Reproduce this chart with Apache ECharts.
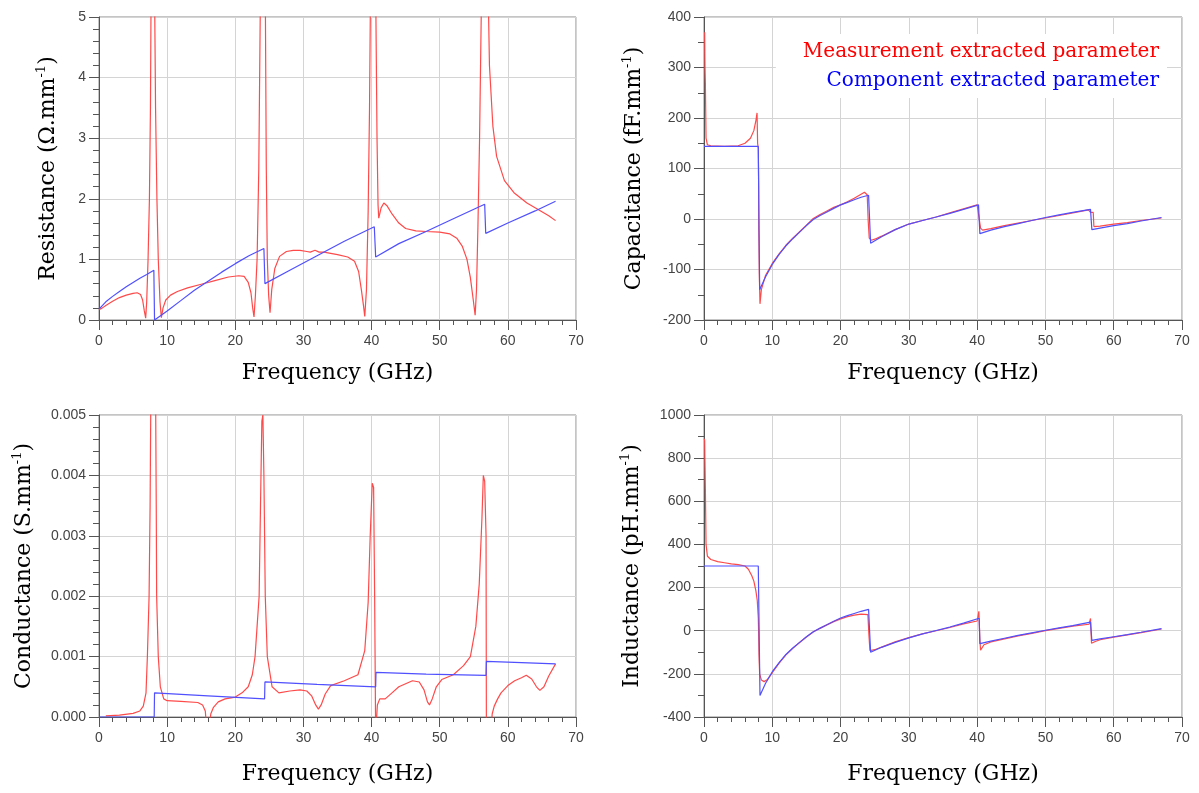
<!DOCTYPE html>
<html>
<head>
<meta charset="utf-8">
<script src="https://cdn.jsdelivr.net/npm/echarts@6/dist/echarts.min.js"></script>
<style>html,body{margin:0;padding:0;background:#fff}#c{width:1199px;height:793px}</style>
</head>
<body>
<div id="c"></div>
<script>
// ---- Data (frequency in GHz, value) ----
const xTicks = [0, 10, 20, 30, 40, 50, 60, 70];
const seriesNames = ['Measurement extracted parameter', 'Component extracted parameter'];

// Resistance (Ω/mm)
const resMeas = [[0,0.17],[0.5,0.2],[1,0.24],[2,0.31],[3,0.37],[4,0.41],[5,0.44],[5.6,0.45],[6.1,0.42],[6.4,0.33],[6.65,0.15],[6.85,0.03],[7.0,0.3],[7.2,1.0],[7.4,2.0],[7.55,3.5],[7.65,5.5],[8.15,5.5],[8.3,3.5],[8.5,2.0],[8.7,1.0],[8.95,0.3],[9.15,0.04],[9.4,0.2],[9.8,0.33],[10.5,0.41],[11.5,0.47],[13,0.53],[15,0.59],[17,0.65],[19,0.71],[20.5,0.73],[21.3,0.72],[21.9,0.62],[22.3,0.45],[22.55,0.2],[22.75,0.05],[22.95,0.4],[23.2,1.0],[23.45,2.5],[23.7,5.5],[24.4,5.5],[24.55,2.5],[24.7,1.0],[24.9,0.4],[25.1,0.12],[25.35,0.5],[25.8,0.85],[26.5,1.05],[27.5,1.13],[28.5,1.15],[29.5,1.15],[30.5,1.13],[31,1.12],[31.7,1.15],[32.3,1.12],[33,1.12],[35,1.08],[36.5,1.04],[37.5,0.97],[38.1,0.8],[38.5,0.5],[38.8,0.25],[39.0,0.06],[39.25,0.5],[39.5,1.8],[39.7,3.5],[39.85,5.5],[40.6,5.5],[40.8,3.0],[40.95,1.9],[41.05,1.68],[41.4,1.85],[41.8,1.93],[42.3,1.88],[43,1.75],[44,1.6],[45,1.51],[46.5,1.47],[48,1.46],[50,1.45],[51.5,1.42],[52.5,1.35],[53.3,1.22],[54,1.0],[54.5,0.7],[54.9,0.35],[55.2,0.08],[55.4,0.5],[55.6,1.5],[55.85,3.0],[56.15,5.5],[57.1,5.5],[57.3,4.2],[57.8,3.2],[58.35,2.7],[59.5,2.3],[60.9,2.1],[62.8,1.93],[64.5,1.82],[66,1.72],[67,1.64]];
const resComp = [[0,0.18],[1,0.3],[2,0.39],[3,0.47],[4,0.55],[5,0.62],[6,0.69],[7,0.75],[8.05,0.82],[8.15,0],[10,0.15],[12,0.32],[14,0.49],[16,0.64],[18,0.79],[20,0.93],[22,1.06],[24.2,1.18],[24.35,0.6],[28,0.82],[32,1.06],[36,1.3],[40.4,1.54],[40.6,1.04],[44,1.26],[48,1.46],[52,1.67],[56.6,1.91],[56.75,1.43],[60,1.6],[64,1.8],[67,1.96]];

// Capacitance (fF/mm)
const capMeas = [[0.1,370],[0.15,300],[0.2,270],[0.3,160],[0.5,147],[1,145],[3,144],[5,145],[6,150],[6.8,160],[7.3,175],[7.6,195],[7.77,210],[7.85,150],[7.95,140],[8.0,65],[8.02,-20],[8.1,-110],[8.2,-168],[8.4,-140],[9,-112],[10,-88],[11,-69],[12,-52],[13,-38],[14,-25],[15,-12],[16,1],[17,9],[18,16],[19,23],[20,28],[21,34],[22,41],[23,49],[23.5,53],[23.9,48],[24.05,-5],[24.2,-38],[24.5,-42],[25,-40],[26,-34],[28,-21],[30,-10],[32,-3],[34,4],[36,12],[38,20],[40.0,28],[40.2,27],[40.5,-18],[40.8,-22],[42,-19],[44,-13],[46,-8],[48,-3],[50,2],[52,7],[54,12],[56.3,18],[56.6,13],[57.0,13],[57.1,-15],[58,-14],[60,-10],[62,-7],[64,-3],[67,2]];
const capComp = [[0,144],[7.95,144],[8.15,-140],[9,-115],[10,-90],[11,-70],[12,-53],[13,-39],[14,-26],[15,-13],[16,-1],[17,7],[18,14],[19,21],[20,28],[21,33],[22,38],[23,43],[24.1,47],[24.4,-48],[26,-35],[28,-21],[30,-10],[32,-3],[34,4],[36,11],[38,19],[40.2,28],[40.4,-29],[42,-22],[44,-15],[46,-9],[48,-3],[50,3],[52,8],[54,13],[56.6,19],[56.8,-21],[58,-18],[60,-13],[62,-9],[64,-4],[67,3]];

// Conductance (S/mm)
const condMeas = [[1,0.00002],[3,0.00003],[5,0.00006],[6,0.0001],[6.5,0.00018],[6.9,0.0004],[7.1,0.001],[7.35,0.002],[7.5,0.0035],[7.62,0.0055],[8.3,0.0055],[8.4,0.0035],[8.46,0.002],[8.7,0.001],[9.0,0.0005],[9.5,0.0003],[10,0.00027],[12,0.00026],[14.5,0.00024],[15.2,0.0002],[15.6,0.0001],[15.8,-0.0002],[16.2,-0.0002],[16.4,0.00005],[16.8,0.00016],[17.5,0.00025],[18.5,0.0003],[20,0.00033],[21,0.0004],[21.9,0.0005],[22.5,0.0007],[22.9,0.001],[23.2,0.0015],[23.5,0.002],[23.7,0.0035],[23.9,0.0049],[24.05,0.005],[24.2,0.004],[24.4,0.002],[24.7,0.001],[25.4,0.0005],[26.4,0.0004],[28,0.00043],[29.5,0.00045],[30.5,0.00043],[31.2,0.00035],[31.8,0.0002],[32.2,0.00013],[32.6,0.0002],[33.2,0.00038],[34,0.00052],[36,0.0006],[38,0.0007],[39,0.0011],[39.5,0.0019],[39.8,0.003],[40.1,0.00387],[40.3,0.0038],[40.45,0.002],[40.6,-0.0003],[40.75,-0.0003],[40.85,0.0002],[41.2,0.0003],[42,0.0003],[43,0.0004],[44,0.0005],[46,0.0006],[47,0.00058],[47.7,0.00045],[48.2,0.00025],[48.5,0.0002],[48.9,0.0003],[49.5,0.0005],[50.3,0.00062],[52,0.0007],[53.5,0.00085],[54.5,0.001],[55.3,0.0015],[55.8,0.0022],[56.2,0.0033],[56.4,0.004],[56.6,0.0039],[56.8,0.003],[56.85,-0.0003],[57.5,-0.0003],[57.7,0.00005],[58,0.00018],[58.5,0.0003],[59,0.0004],[60,0.00052],[61,0.0006],[62,0.00065],[62.7,0.00069],[63.5,0.00063],[64.2,0.0005],[64.7,0.00044],[65.3,0.0005],[66,0.00068],[67,0.00088]];
const condComp = [[0,0],[8.1,0],[8.15,0.0004],[16,0.00035],[24.3,0.0003],[24.35,0.00058],[32,0.00054],[40.6,0.0005],[40.65,0.00074],[48,0.00071],[56.8,0.00069],[56.85,0.00092],[62,0.0009],[67,0.00088]];

// Inductance (pH/mm)
const indMeas = [[0.05,890],[0.1,880],[0.2,660],[0.3,400],[0.5,345],[1,330],[2,320],[3,315],[4,310],[5,306],[6,300],[6.5,285],[7,255],[7.3,230],[7.6,185],[7.8,140],[7.95,60],[8.0,-10],[8.05,-110],[8.15,-200],[8.4,-228],[8.8,-236],[9.3,-226],[10,-195],[11,-150],[12,-112],[13,-82],[14,-55],[15,-29],[16,-6],[17,11],[18,27],[19,42],[20,55],[21,65],[22,72],[23,77],[24,75],[24.15,-20],[24.3,-92],[25,-88],[26,-76],[28,-52],[30,-32],[32,-15],[34,0],[36,15],[38,32],[40,45],[40.25,90],[40.4,-40],[40.5,-90],[41,-65],[42,-52],[44,-38],[46,-24],[48,-12],[50,0],[52,11],[54,21],[56.4,30],[56.6,57],[56.75,-58],[57.3,-50],[58,-42],[60,-30],[62,-19],[64,-9],[67,8]];
const indComp = [[0,300],[7.95,300],[8.2,-300],[9,-245],[10,-190],[11,-148],[12,-110],[13,-80],[14,-54],[15,-28],[16,-5],[17,12],[18,28],[19,44],[20,59],[21,70],[22,80],[23,90],[24.1,99],[24.4,-100],[26,-77],[28,-54],[30,-33],[32,-15],[34,1],[36,17],[38,35],[40.3,58],[40.4,-60],[42,-48],[44,-35],[46,-22],[48,-10],[50,2],[52,13],[54,24],[56.6,40],[56.8,-45],[58,-38],[60,-28],[62,-18],[64,-7],[67,10]];

// Axis ranges / tick settings
const resTicks = {min: 0, max: 5, interval: 1};
const capTicks = {min: -200, max: 400, interval: 100};
const condTicks = {min: 0, max: 0.005, interval: 0.001};
const indTicks = {min: -400, max: 1000, interval: 200};

// ---- Chart ----
const RED = '#ff4a4a', BLUE = '#5050ff';
const serif = 'DejaVu Serif';
const titleRich = {
  t: {fontFamily: serif, fontSize: 22, color: '#000', lineHeight: 26},
  s: {fontFamily: serif, fontSize: 13, color: '#000', lineHeight: 13, verticalAlign: 'top'}
};
const grids = [
  {left: 99, top: 17, width: 477, height: 303},
  {left: 704, top: 17, width: 478, height: 303},
  {left: 99, top: 415, width: 477, height: 302},
  {left: 704, top: 415, width: 478, height: 302}
].map(g => Object.assign({show: true, borderColor: '#8a8a8a', borderWidth: 1, backgroundColor: '#fff'}, g));

function xAxis(i, gap) {
  return {
    type: 'value', gridIndex: i, min: xTicks[0], max: xTicks[xTicks.length - 1], interval: 10,
    name: '{t|Frequency (GHz)}', nameLocation: 'middle', nameGap: gap,
    nameTextStyle: {rich: titleRich},
    axisLine: {show: true, onZero: false, lineStyle: {color: '#555', width: 1}},
    axisTick: {show: true, length: 10, lineStyle: {color: '#555'}},
    minorTick: {show: true, splitNumber: 5, length: 5, lineStyle: {color: '#555'}},
    splitLine: {show: true, lineStyle: {color: '#d4d4d4', width: 1}},
    axisLabel: {color: '#444', fontFamily: 'Liberation Sans', fontSize: 14, margin: 14}
  };
}
function yAxis(i, t, title, sup, gap, minorSplit, fmt) {
  return {
    type: 'value', gridIndex: i, min: t.min, max: t.max, interval: t.interval,
    name: '{t|' + title + '}{s|' + sup + '}{t|)}', nameLocation: 'middle', nameGap: gap,
    nameTextStyle: {rich: titleRich},
    axisLine: {show: true, onZero: false, lineStyle: {color: '#555', width: 1}},
    axisTick: {show: true, length: 10, lineStyle: {color: '#555'}},
    minorTick: {show: true, splitNumber: minorSplit, length: 6, lineStyle: {color: '#555'}},
    splitLine: {show: true, lineStyle: {color: '#d4d4d4', width: 1}},
    axisLabel: {color: '#444', fontFamily: 'Liberation Sans', fontSize: 14, margin: 13, formatter: fmt}
  };
}
function line(name, data, i, color) {
  return {
    type: 'line', name: name, data: data, xAxisIndex: i, yAxisIndex: i,
    showSymbol: false, symbol: 'none', clip: true, animation: false,
    lineStyle: {color: color, width: 1.2}, itemStyle: {color: color}
  };
}

const chart = echarts.init(document.getElementById('c'), null, {renderer: 'canvas'});
chart.setOption({
  backgroundColor: '#fff',
  animation: false,
  grid: grids,
  xAxis: [xAxis(0, 40), xAxis(1, 40), xAxis(2, 44), xAxis(3, 44)],
  yAxis: [
    yAxis(0, resTicks, 'Resistance (Ω.mm', '-1', 38, 5, v => String(v)),
    yAxis(1, capTicks, 'Capacitance (fF.mm', '-1', 57, 2, v => String(v)),
    yAxis(2, condTicks, 'Conductance (S.mm', '-1', 62, 5, v => v.toFixed(3)),
    yAxis(3, indTicks, 'Inductance (pH.mm', '-1', 59, 2, v => String(v))
  ],
  legend: [
    {
      data: [{name: seriesNames[0], textStyle: {color: '#ff0000'}}],
      right: 32, top: 34, padding: [6, 8, 34, 22], backgroundColor: '#fff',
      icon: 'none', itemWidth: 0, itemHeight: 0, selectedMode: false,
      textStyle: {fontFamily: serif, fontSize: 20, lineHeight: 24}
    },
    {
      data: [{name: seriesNames[1], textStyle: {color: '#0000ff'}}],
      right: 32, top: 63, padding: [6, 8, 6, 8],
      icon: 'none', itemWidth: 0, itemHeight: 0, selectedMode: false,
      textStyle: {fontFamily: serif, fontSize: 20, lineHeight: 24}
    }
  ],
  series: [
    line(seriesNames[0], resMeas, 0, RED), line(seriesNames[1], resComp, 0, BLUE),
    line(seriesNames[0], capMeas, 1, RED), line(seriesNames[1], capComp, 1, BLUE),
    line(seriesNames[0], condMeas, 2, RED), line(seriesNames[1], condComp, 2, BLUE),
    line(seriesNames[0], indMeas, 3, RED), line(seriesNames[1], indComp, 3, BLUE)
  ]
});
</script>
</body>
</html>
